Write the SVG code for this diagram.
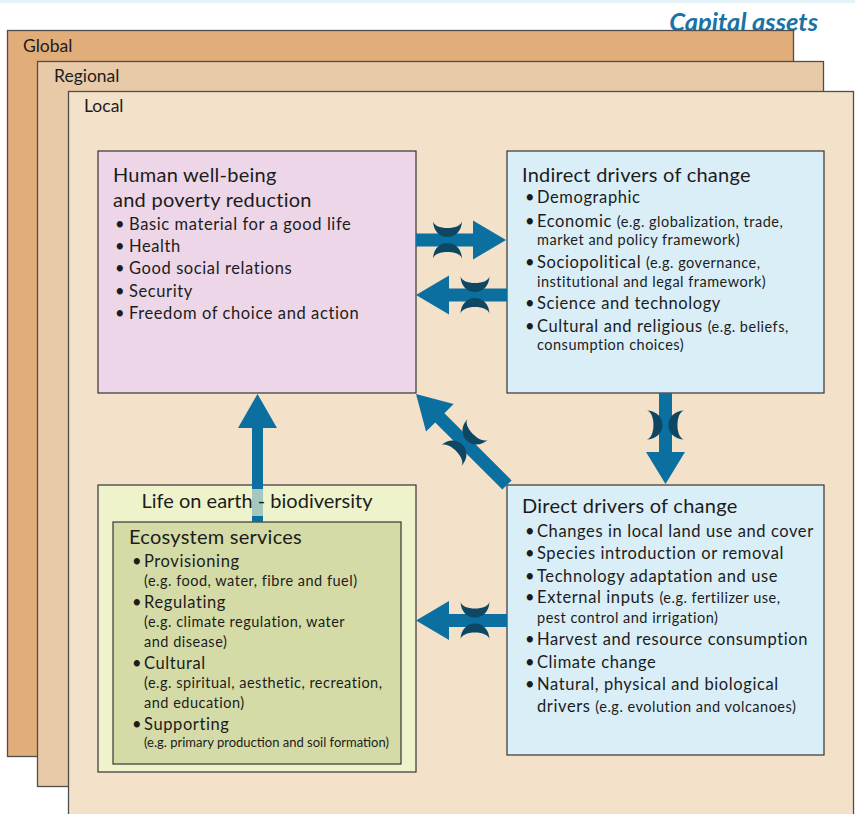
<svg xmlns="http://www.w3.org/2000/svg" width="855" height="814" viewBox="0 0 855 814">
<style>
  text{font-family:Lato,"Liberation Sans",sans-serif;fill:#1c1c1c}
  .title{font-size:25.5px;font-weight:bold;font-style:italic;fill:#1a72a5}
  .lvl{stroke:#4e4e4e;stroke-width:1.3}
  .node{stroke:#353535;stroke-width:1.2}
  .lbl{font-size:17.5px}
  .h{font-size:20px;letter-spacing:0.25px}
  .i{font-size:16.5px;letter-spacing:0.6px}
  .s{font-size:14.5px;letter-spacing:0.5px}
  .xs{font-size:13px;letter-spacing:0}
  .arrow{fill:#0b6fa0}
  .tie{fill:#0d4763}
</style>
<defs>
  <!-- pair of crescents straddling a shaft that runs along the x axis -->
  <g id="bowtie">
    <path class="tie" d="M-14.5,-19.5 C-14.5,2.5 14.5,2.5 14.5,-19.5 C14.5,-9.5 -14.5,-9.5 -14.5,-19.5 Z"/>
    <path class="tie" d="M-14.5,19.5 C-14.5,-2.5 14.5,-2.5 14.5,19.5 C14.5,9.5 -14.5,9.5 -14.5,19.5 Z"/>
  </g>
</defs>

<rect x="0" y="0" width="855" height="3" fill="#e4f2f8"/>
<text class="title" x="818" y="31" text-anchor="end">Capital assets</text>

<!-- nested scale frames -->
<g id="global">
  <rect class="lvl" x="7.5" y="30.5" width="786" height="726" fill="#e1ad79"/>
  <text class="lbl" x="23" y="52">Global</text>
</g>
<g id="regional">
  <rect class="lvl" x="37.5" y="61.5" width="786" height="725" fill="#e8caa8"/>
  <text class="lbl" x="54" y="82">Regional</text>
</g>
<g id="local">
  <rect class="lvl" x="68.5" y="91.5" width="785" height="730" fill="#f4e1c9"/>
  <text class="lbl" x="84" y="112">Local</text>
</g>

<!-- human well-being -->
<g id="human-wellbeing">
  <rect class="node" x="98" y="151" width="318" height="242" fill="#ecd6e7"/>
  <text class="h" x="113" y="182">Human well-being</text>
  <text class="h" x="113" y="207">and poverty reduction</text>
  <g class="i">
    <text x="115" y="230">•</text><text x="129" y="230">Basic material for a good life</text>
    <text x="115" y="252">•</text><text x="129" y="252">Health</text>
    <text x="115" y="274">•</text><text x="129" y="274">Good social relations</text>
    <text x="115" y="297">•</text><text x="129" y="297">Security</text>
    <text x="115" y="319">•</text><text x="129" y="319">Freedom of choice and action</text>
  </g>
</g>

<!-- indirect drivers -->
<g id="indirect-drivers">
  <rect class="node" x="507" y="151" width="317" height="242" fill="#d9eef7"/>
  <text class="h" x="522" y="182">Indirect drivers of change</text>
  <g class="i">
    <text x="525" y="203">•</text><text x="537" y="203">Demographic</text>
    <text x="525" y="227">•</text><text x="537" y="227">Economic <tspan class="s">(e.g. globalization, trade,</tspan></text>
    <text class="s" x="537" y="245">market and policy framework)</text>
    <text x="525" y="268">•</text><text x="537" y="268">Sociopolitical <tspan class="s">(e.g. governance,</tspan></text>
    <text class="s" x="537" y="287">institutional and legal framework)</text>
    <text x="525" y="309">•</text><text x="537" y="309">Science and technology</text>
    <text x="525" y="332">•</text><text x="537" y="332">Cultural and religious <tspan class="s">(e.g. beliefs,</tspan></text>
    <text class="s" x="537" y="350">consumption choices)</text>
  </g>
</g>

<!-- direct drivers -->
<g id="direct-drivers">
  <rect class="node" x="507" y="485" width="317" height="270" fill="#d9eef7"/>
  <text class="h" x="522" y="513">Direct drivers of change</text>
  <g class="i">
    <text x="525" y="537">•</text><text x="537" y="537">Changes in local land use and cover</text>
    <text x="525" y="559">•</text><text x="537" y="559">Species introduction or removal</text>
    <text x="525" y="582">•</text><text x="537" y="582">Technology adaptation and use</text>
    <text x="525" y="603">•</text><text x="537" y="603">External inputs <tspan class="s">(e.g. fertilizer use,</tspan></text>
    <text class="s" x="537" y="623">pest control and irrigation)</text>
    <text x="525" y="645">•</text><text x="537" y="645">Harvest and resource consumption</text>
    <text x="525" y="668">•</text><text x="537" y="668">Climate change</text>
    <text x="525" y="690">•</text><text x="537" y="690">Natural, physical and biological</text>
    <text x="537" y="712">drivers <tspan class="s">(e.g. evolution and volcanoes)</tspan></text>
  </g>
</g>

<!-- biodiversity and ecosystem services -->
<g id="life-on-earth">
  <rect class="node" x="98" y="485" width="318" height="287" fill="#eef3cc"/>
</g>
<g id="ecosystem-services">
  <rect class="node" x="113" y="522" width="288" height="242" fill="#d5dba6"/>
  <text class="h" x="129" y="544">Ecosystem services</text>
  <g class="i">
    <text x="132" y="567">•</text><text x="144" y="567">Provisioning</text>
    <text class="s" x="144" y="586">(e.g. food, water, fibre and fuel)</text>
    <text x="132" y="608">•</text><text x="144" y="608">Regulating</text>
    <text class="s" x="144" y="627">(e.g. climate regulation, water</text>
    <text class="s" x="144" y="647">and disease)</text>
    <text x="132" y="669">•</text><text x="144" y="669">Cultural</text>
    <text class="s" x="144" y="688">(e.g. spiritual, aesthetic, recreation,</text>
    <text class="s" x="144" y="708">and education)</text>
    <text x="132" y="730">•</text><text x="144" y="730">Supporting</text>
    <text class="xs" x="144" y="747">(e.g. primary production and soil formation)</text>
  </g>
</g>

<!-- connectors -->
<g id="connectors">
  <!-- well-being to indirect drivers -->
  <polygon class="arrow" points="416,233.5 473,233.5 473,220.5 506,240 473,259.5 473,246.5 416,246.5"/>
  <use href="#bowtie" transform="translate(447.5,240)"/>
  <!-- indirect drivers to well-being -->
  <polygon class="arrow" points="507,288.5 449,288.5 449,275.5 416,295 449,314.5 449,301.5 507,301.5"/>
  <use href="#bowtie" transform="translate(475,295)"/>
  <!-- indirect to direct drivers -->
  <polygon class="arrow" points="659,393 672,393 672,452 685,452 665.5,484 646,452 659,452"/>
  <use href="#bowtie" transform="translate(665.5,425) rotate(90)"/>
  <!-- direct drivers to ecosystem services -->
  <polygon class="arrow" points="507,614 449,614 449,601 416,620.5 449,640 449,627 507,627"/>
  <use href="#bowtie" transform="translate(475,620.5)"/>
  <!-- direct drivers to well-being -->
  <polygon class="arrow" transform="translate(507,485) rotate(-135)" points="0,-6.5 95,-6.5 95,-19.5 128.7,0 95,19.5 95,6.5 0,6.5"/>
  <use href="#bowtie" transform="translate(464.5,442.5) rotate(45)"/>
  <!-- ecosystem services to well-being -->
  <polygon class="arrow" points="252,522 263,522 263,428 277,428 257.5,394 238,428 252,428"/>
</g>

<!-- biodiversity title band sits over the rising shaft -->
<rect x="252" y="489" width="11" height="27" fill="#eef3cc" opacity="0.68"/>
<text class="h" x="257" y="508" text-anchor="middle" style="letter-spacing:0">Life on earth - biodiversity</text>
</svg>
